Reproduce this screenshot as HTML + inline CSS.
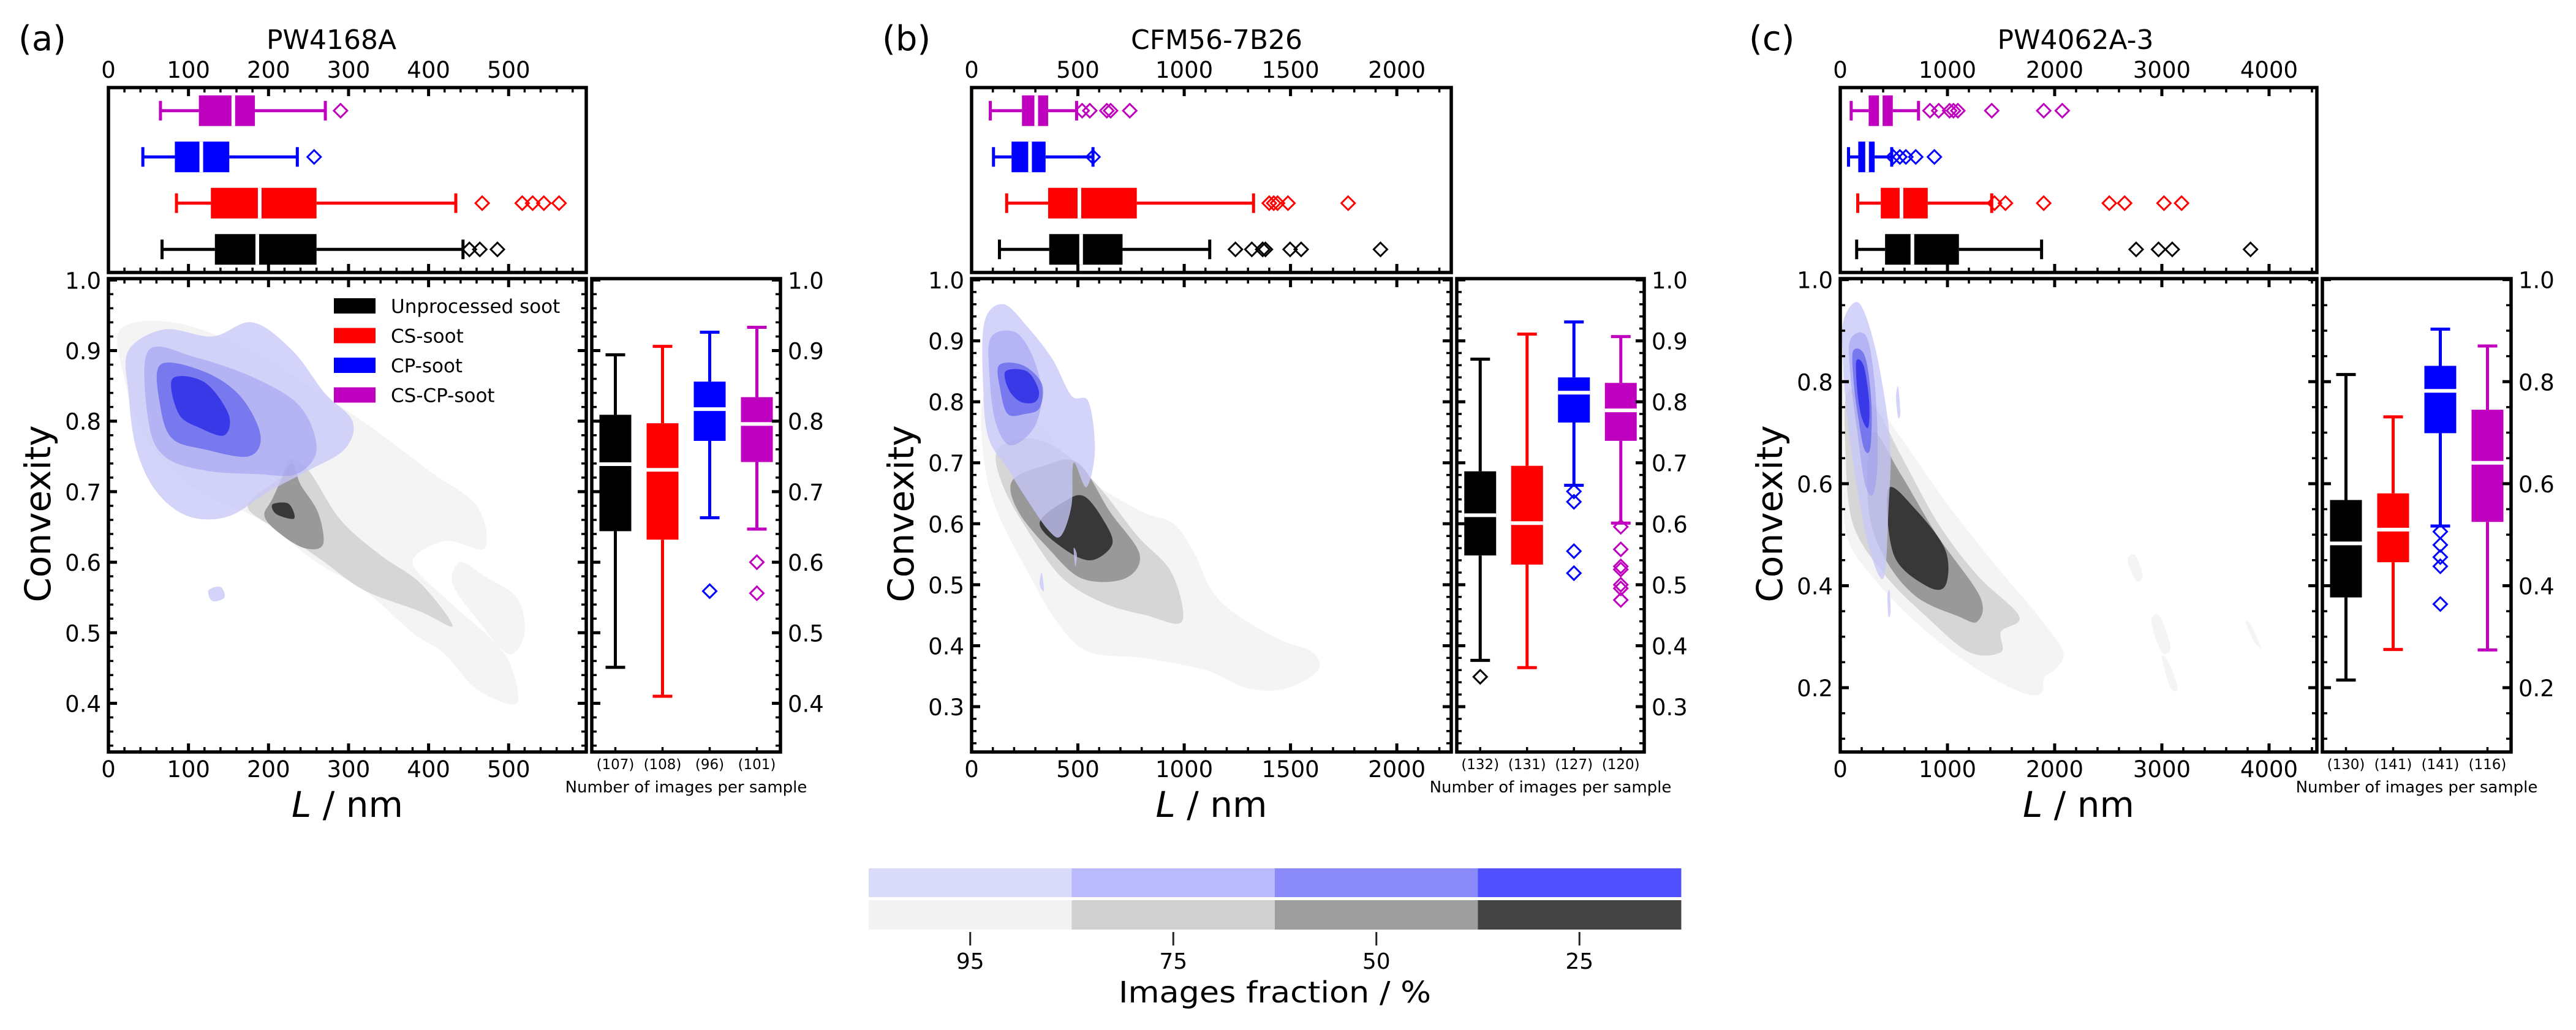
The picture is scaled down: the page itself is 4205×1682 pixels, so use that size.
<!DOCTYPE html>
<html><head><meta charset="utf-8">
<style>
html,body{margin:0;padding:0;background:#fff;}
svg{display:block;font-family:"DejaVu Sans","Liberation Sans",sans-serif;}
</style></head>
<body>
<svg id="fig" xmlns="http://www.w3.org/2000/svg" width="4205" height="1682" viewBox="0 0 4205 1682">
<rect x="0" y="0" width="4205" height="1682" fill="#fff"/>
</svg>
<script>
// ---------------- DATA ----------------
const groupNames = ["Unprocessed soot","CS-soot","CP-soot","CS-CP-soot"];
const groupColors = ["#000000","#ff0000","#0000ff","#bf00bf"];
const levelLabels = ["95","75","50","25"];
const grayColors = ["#f4f4f4","#d6d6d6","#999999","#383838"];
const blueColors = ["rgba(200,200,248,0.78)","rgba(150,150,240,0.5)","rgba(80,80,235,0.6)","rgba(40,40,230,0.78)"];
const cbBlue = ["#dadafa","#b9b9fb","#8a8afb","#5050ff"];
const cbGray = ["#f2f2f2","#d0d0d0","#9e9e9e","#444444"];

// panel a: PW4168A. stats = [whiskerLow, q1, median, q3, whiskerHigh]
const aTitle = "PW4168A";
const aLStats = [[67,133,186,260,443],[85,128,189,260,434],[43,83,116,151,236],[65,113,156,183,271]];
const aLOut = [[451,464,486],[467,517,530,544,563],[257],[290]];
const aCStats = [[0.451,0.644,0.739,0.809,0.894],[0.410,0.632,0.731,0.797,0.906],[0.663,0.772,0.817,0.856,0.926],[0.647,0.742,0.796,0.834,0.933]];
const aCOut = [[],[],[0.559],[0.600,0.556]];
const aCounts = ["(107)","(108)","(96)","(101)"];
const aXTicks = [0,100,200,300,400,500];
const aYTicks = [0.4,0.5,0.6,0.7,0.8,0.9,1.0];
const aYTickLabels = ["0.4","0.5","0.6","0.7","0.8","0.9","1.0"];
const aGray = [
 [[[15,0.93],[80,0.94],[170,0.905],[250,0.85],[330,0.79],[400,0.73],[460,0.68],[470,0.62],[420,0.63],[380,0.6],[420,0.55],[470,0.5],[500,0.46],[510,0.4],[460,0.42],[420,0.47],[380,0.5],[320,0.56],[260,0.6],[190,0.66],[130,0.69],[80,0.73],[40,0.79],[20,0.86]],
  [[440,0.6],[470,0.58],[510,0.55],[520,0.5],[500,0.47],[460,0.52],[430,0.57]]],
 [[[225,0.745],[250,0.73],[290,0.66],[340,0.61],[390,0.57],[430,0.51],[390,0.53],[320,0.56],[270,0.6],[220,0.64],[175,0.675],[190,0.7],[215,0.72]]],
 [[[228,0.74],[240,0.71],[262,0.67],[268,0.625],[245,0.62],[215,0.64],[195,0.665],[205,0.69]]],
 [[[205,0.682],[225,0.683],[232,0.662],[210,0.668]]]
];
const aBlue = [
 [[[25,0.9],[70,0.93],[130,0.92],[180,0.94],[230,0.9],[270,0.84],[305,0.8],[295,0.76],[250,0.73],[200,0.7],[150,0.665],[100,0.665],[60,0.7],[35,0.76],[25,0.84]],
  [[125,0.56],[140,0.565],[145,0.55],[130,0.545]]],
 [[[50,0.9],[110,0.89],[185,0.86],[240,0.82],[260,0.76],[235,0.725],[185,0.725],[120,0.73],[70,0.75],[50,0.8]]],
 [[[65,0.88],[120,0.87],[165,0.835],[190,0.78],[175,0.75],[120,0.76],[80,0.775],[65,0.82]]],
 [[[80,0.86],[120,0.855],[150,0.81],[145,0.78],[115,0.79],[88,0.81]]]
];

// panel b: CFM56-7B26
const bTitle = "CFM56-7B26";
const bLStats = [[131,365,515,710,1120],[165,360,507,777,1326],[103,188,275,348,571],[88,237,304,360,494]];
const bLOut = [[1241,1318,1369,1382,1498,1550,1923],[1400,1421,1439,1488,1771],[571],[520,556,636,654,744]];
const bCStats = [[0.376,0.548,0.614,0.686,0.870],[0.364,0.533,0.601,0.695,0.911],[0.663,0.766,0.815,0.840,0.931],[0.601,0.736,0.786,0.831,0.907]];
const bCOut = [[0.349],[],[0.653,0.636,0.555,0.519],[0.595,0.558,0.530,0.525,0.500,0.494,0.475]];
const bCounts = ["(132)","(131)","(127)","(120)"];
const bXTicks = [0,500,1000,1500,2000];
const bYTicks = [0.3,0.4,0.5,0.6,0.7,0.8,0.9,1.0];
const bYTickLabels = ["0.3","0.4","0.5","0.6","0.7","0.8","0.9","1.0"];
const bGray = [
 [[[50,0.8],[130,0.83],[260,0.79],[420,0.72],[560,0.67],[800,0.62],[950,0.6],[1050,0.55],[1130,0.49],[1250,0.45],[1450,0.41],[1600,0.39],[1630,0.36],[1480,0.33],[1300,0.33],[1100,0.36],[800,0.38],[550,0.39],[400,0.44],[250,0.53],[120,0.62],[60,0.7]]],
 [[[120,0.72],[260,0.74],[420,0.72],[600,0.66],[780,0.58],[940,0.52],[990,0.44],[820,0.45],[620,0.47],[430,0.51],[280,0.58],[150,0.66]]],
 [[[190,0.67],[340,0.695],[500,0.7],[650,0.62],[790,0.55],[720,0.51],[520,0.51],[360,0.56],[220,0.62]]],
 [[[320,0.6],[430,0.635],[530,0.645],[630,0.6],[660,0.565],[560,0.54],[430,0.56]]]
];
const bBlue = [
 [[[60,0.93],[150,0.96],[270,0.92],[380,0.87],[470,0.81],[550,0.8],[580,0.72],[540,0.66],[480,0.7],[470,0.63],[420,0.58],[360,0.59],[260,0.64],[170,0.69],[80,0.74],[55,0.82]],
  [[320,0.5],[330,0.52],[340,0.49]],[[480,0.56],[495,0.55],[488,0.53]]],
 [[[90,0.905],[200,0.915],[280,0.88],[330,0.82],[310,0.77],[250,0.74],[170,0.73],[110,0.77],[85,0.84]]],
 [[[130,0.86],[240,0.86],[330,0.83],[320,0.79],[250,0.78],[170,0.78],[135,0.82]]],
 [[[160,0.85],[260,0.85],[315,0.82],[300,0.8],[230,0.8],[175,0.82]]]
];

// panel c: PW4062A-3
const cTitle = "PW4062A-3";
const cLStats = [[153,418,673,1107,1878],[163,378,571,816,1413],[77,168,250,321,480],[102,265,378,490,730]];
const cLOut = [[2760,2969,3097,3827],[1439,1541,1898,2510,2653,3020,3184],[495,556,612,704,878],[837,918,1020,1056,1097,1413,1898,2071]];
const cCStats = [[0.215,0.377,0.483,0.568,0.814],[0.275,0.446,0.510,0.581,0.731],[0.517,0.699,0.782,0.831,0.903],[0.274,0.525,0.641,0.745,0.870]];
const cCOut = [[],[],[0.506,0.480,0.456,0.438,0.364],[]];
const cCounts = ["(130)","(141)","(141)","(116)"];
const cXTicks = [0,1000,2000,3000,4000];
const cYTicks = [0.2,0.4,0.6,0.8,1.0];
const cYTickLabels = ["0.2","0.4","0.6","0.8","1.0"];
const cGray = [
 [[[40,0.83],[260,0.78],[600,0.68],[1000,0.56],[1450,0.44],[1850,0.34],[2080,0.27],[2000,0.235],[1900,0.22],[1880,0.19],[1700,0.19],[1250,0.24],[750,0.32],[330,0.41],[60,0.5],[30,0.66]],
  [[2680,0.45],[2750,0.46],[2820,0.42],[2760,0.41]],[[2900,0.33],[2980,0.34],[3080,0.28],[3000,0.27]],[[3000,0.26],[3060,0.25],[3150,0.2],[3080,0.2]],[[3780,0.33],[3840,0.32],[3920,0.28],[3860,0.29]]],
 [[[70,0.78],[320,0.75],[580,0.65],[920,0.52],[1280,0.42],[1670,0.34],[1500,0.31],[1500,0.27],[1200,0.27],[800,0.34],[420,0.42],[120,0.52],[50,0.66]]],
 [[[300,0.7],[560,0.62],[900,0.5],[1300,0.38],[1280,0.33],[1100,0.34],[700,0.38],[400,0.46],[260,0.56]]],
 [[[450,0.59],[700,0.55],[980,0.47],[980,0.4],[800,0.4],[500,0.46]]]
];
const cBlue = [
 [[[30,0.92],[170,0.955],[310,0.88],[420,0.76],[470,0.66],[450,0.55],[420,0.43],[360,0.42],[250,0.49],[150,0.6],[70,0.72],[25,0.84]],
  [[520,0.77],[540,0.79],[560,0.74],[540,0.73]],[[440,0.38],[460,0.39],[470,0.35],[450,0.34]]],
 [[[90,0.88],[240,0.89],[320,0.8],[350,0.66],[310,0.58],[230,0.6],[160,0.7],[100,0.8]]],
 [[[120,0.86],[230,0.85],[290,0.76],[280,0.67],[220,0.67],[160,0.74],[125,0.8]]],
 [[[150,0.84],[220,0.83],[270,0.76],[260,0.71],[200,0.73],[160,0.78]]]
];

// ---------------- RENDER ----------------
const NS = "http://www.w3.org/2000/svg";
const svg = document.getElementById('fig');
function mk(tag, attrs, parent){
  const e = document.createElementNS(NS, tag);
  for (const k in attrs) e.setAttribute(k, attrs[k]);
  (parent || svg).appendChild(e);
  return e;
}
function smoothPath(pts){
  const n = pts.length; let d = "M" + pts[0][0].toFixed(1) + "," + pts[0][1].toFixed(1);
  for (let i = 0; i < n; i++){
    const p0 = pts[(i-1+n)%n], p1 = pts[i], p2 = pts[(i+1)%n], p3 = pts[(i+2)%n];
    const c1x = p1[0] + (p2[0]-p0[0])/6, c1y = p1[1] + (p2[1]-p0[1])/6;
    const c2x = p2[0] - (p3[0]-p1[0])/6, c2y = p2[1] - (p3[1]-p1[1])/6;
    d += "C" + c1x.toFixed(1)+","+c1y.toFixed(1)+" "+c2x.toFixed(1)+","+c2y.toFixed(1)+" "+p2[0].toFixed(1)+","+p2[1].toFixed(1);
  }
  return d + "Z";
}
function diamond(cx, cy, r){ return "M"+cx+","+(cy-r)+"L"+(cx+r)+","+cy+"L"+cx+","+(cy+r)+"L"+(cx-r)+","+cy+"Z"; }

function drawPanel(P){
  const xs = v => P.x0 + (v - 0) / P.xmax * P.w;
  const ys = v => P.mainY + (P.ymax - v) / (P.ymax - P.ymin) * P.mainH;
  const rowY = k => P.topY + P.topH - (k + 0.5) / 4 * P.topH;
  const colX = k => P.rx + (k + 0.5) / 4 * P.rw;
  const g = mk('g', {});
  
  

  const lab = mk('text', {x:P.labX, y:82, 'font-size':56}, g);
  lab.textContent = "(" + P.id + ")";
  
  
  const tt = mk('text', {x:P.titleX, y:80, 'font-size':44, 'text-anchor':'middle'}, g);
  tt.textContent = P.title;
  
  

  const cid = 'clip' + P.id;
  const cp = mk('clipPath', {id:cid}, g);
  mk('rect', {x:P.x0, y:P.mainY, width:P.w, height:P.mainH}, cp);
  const cg = mk('g', {'clip-path':'url(#'+cid+')'}, g);
  
  
  P.gray.forEach((lvl, li) => {
    lvl.forEach(poly => {
      const p = mk('path', {d: smoothPath(poly.map(q => [xs(q[0]), ys(q[1])])), fill: grayColors[li]}, cg);
      
      
    });
  });
  P.blue.forEach((lvl, li) => {
    lvl.forEach(poly => {
      const p = mk('path', {d: smoothPath(poly.map(q => [xs(q[0]), ys(q[1])])), fill: blueColors[li]}, cg);
      
      
    });
  });

  P.lStats.forEach((s, k) => {
    const y = rowY(k), c = groupColors[k], hh = 25;
    const bg = mk('g', {}, g);
    
    
    mk('path', {d:"M"+xs(s[0])+","+y+"H"+xs(s[1])+"M"+xs(s[3])+","+y+"H"+xs(s[4])+"M"+xs(s[0])+","+(y-16)+"V"+(y+16)+"M"+xs(s[4])+","+(y-16)+"V"+(y+16), stroke:c, 'stroke-width':5, fill:'none'}, bg);
    mk('rect', {x:xs(s[1]), y:y-hh, width:xs(s[3])-xs(s[1]), height:2*hh, fill:c}, bg);
    mk('line', {x1:xs(s[2]), x2:xs(s[2]), y1:y-hh, y2:y+hh, stroke:'#fff', 'stroke-width':6}, bg);
    P.lOut[k].forEach(v => {
      const o = mk('path', {d: diamond(xs(v), y, 11), fill:'none', stroke:c, 'stroke-width':3}, bg);
      
      
    });
  });

  const rcp = 'rclip' + P.id;
  const rc = mk('clipPath', {id:rcp}, g);
  mk('rect', {x:P.rx, y:P.mainY, width:P.rw, height:P.mainH}, rc);
  P.cStats.forEach((s, k) => {
    const x = colX(k), c = groupColors[k], hw = 26;
    const bg = mk('g', {'clip-path':'url(#'+rcp+')'}, g);
    
    
    mk('path', {d:"M"+x+","+ys(s[0])+"V"+ys(s[1])+"M"+x+","+ys(s[3])+"V"+ys(s[4])+"M"+(x-16)+","+ys(s[0])+"H"+(x+16)+"M"+(x-16)+","+ys(s[4])+"H"+(x+16), stroke:c, 'stroke-width':5, fill:'none'}, bg);
    mk('rect', {x:x-hw, y:ys(s[3]), width:2*hw, height:ys(s[1])-ys(s[3]), fill:c}, bg);
    mk('line', {x1:x-hw, x2:x+hw, y1:ys(s[2]), y2:ys(s[2]), stroke:'#fff', 'stroke-width':6}, bg);
    P.cOut[k].forEach(v => {
      const o = mk('path', {d: diamond(x, ys(v), 11), fill:'none', stroke:c, 'stroke-width':3}, bg);
      
      
    });
    const ct = mk('text', {x:x, y:1256, 'font-size':23, 'text-anchor':'middle'}, g);
    ct.textContent = P.counts[k];
    
    
  });
  const nl = mk('text', {x:P.rx + P.rw/2, y:1294, 'font-size':26, 'text-anchor':'middle'}, g);
  nl.textContent = "Number of images per sample";
  
  

  let dMaj = "", dMin = "";
  for (let v = 0; v <= P.xmax + 1e-9; v += P.xMinor){
    const X = xs(v);
    const isMaj = P.xTicks.some(t => Math.abs(t - v) < 1e-6);
    const L = isMaj ? 14 : 8;
    const seg = "M"+X+","+(P.mainY+P.mainH)+"v"+(-L)+"M"+X+","+P.mainY+"v"+L+"M"+X+","+(P.topY+P.topH)+"v"+(-L)+"M"+X+","+P.topY+"v"+L;
    if (isMaj) dMaj += seg; else dMin += seg;
  }
  const yStart = Math.ceil(P.ymin / P.yMinor - 1e-6) * P.yMinor;
  for (let v = yStart; v <= P.ymax + 1e-9; v += P.yMinor){
    const Y = ys(v);
    const isMaj = P.yTicks.some(t => Math.abs(t - v) < 1e-6);
    const L = isMaj ? 14 : 8;
    const seg = "M"+P.x0+","+Y+"h"+L+"M"+(P.x0+P.w)+","+Y+"h"+(-L)+"M"+P.rx+","+Y+"h"+L+"M"+(P.rx+P.rw)+","+Y+"h"+(-L);
    if (isMaj) dMaj += seg; else dMin += seg;
  }
  for (let k = 0; k < 4; k++){ dMin += "M"+colX(k)+","+(P.mainY+P.mainH)+"v-8"; }
  const tmj = mk('path', {d:dMaj, stroke:'#000', 'stroke-width':5, fill:'none'}, g);
  
  
  const tmn = mk('path', {d:dMin, stroke:'#000', 'stroke-width':3.5, fill:'none'}, g);
  
  

  [[P.x0,P.topY,P.w,P.topH,'top-length-axes'],[P.x0,P.mainY,P.w,P.mainH,'main-kde-axes'],[P.rx,P.mainY,P.rw,P.mainH,'right-convexity-axes']].forEach(f => {
    const r = mk('rect', {x:f[0], y:f[1], width:f[2], height:f[3], fill:'none', stroke:'#000', 'stroke-width':5.5}, g);
    
    
  });

  P.xTicks.forEach(v => {
    const t1 = mk('text', {x:xs(v), y:127, 'font-size':37, 'text-anchor':'middle'}, g);
    t1.textContent = String(v);
    
    
    const t2 = mk('text', {x:xs(v), y:1269, 'font-size':37, 'text-anchor':'middle'}, g);
    t2.textContent = String(v);
    
    
  });
  P.yTicks.forEach((v, i) => {
    const t1 = mk('text', {x:P.x0-12, y:ys(v)+14, 'font-size':37, 'text-anchor':'end'}, g);
    t1.textContent = P.yTickLabels[i];
    
    
    const t2 = mk('text', {x:P.rx+P.rw+12, y:ys(v)+14, 'font-size':37}, g);
    t2.textContent = P.yTickLabels[i];
    
    
  });

  const xl = mk('text', {x:P.x0+P.w/2, y:1334, 'font-size':58, 'text-anchor':'middle'}, g);
  xl.innerHTML = '<tspan font-style="italic">L</tspan> / nm';
  
  
  const yl = mk('text', {x:0, y:0, 'font-size':58, 'text-anchor':'middle', transform:'translate('+(P.x0-95)+',839) rotate(-90)'}, g);
  yl.textContent = "Convexity";
  
  
}

drawPanel({id:'a', title:aTitle, labX:30, titleX:541, x0:177, w:780, topY:143, topH:302, mainY:455, mainH:773, rx:966, rw:308,
  xmax:597, ymin:0.331, ymax:1.002, xMinor:20, yMinor:0.02, xTicks:aXTicks, yTicks:aYTicks, yTickLabels:aYTickLabels,
  lStats:aLStats, lOut:aLOut, cStats:aCStats, cOut:aCOut, counts:aCounts, gray:aGray, blue:aBlue});
drawPanel({id:'b', title:bTitle, labX:1440, titleX:1986, x0:1586, w:783, topY:143, topH:302, mainY:455, mainH:773, rx:2378, rw:306,
  xmax:2256, ymin:0.2257, ymax:1.002, xMinor:100, yMinor:0.02, xTicks:bXTicks, yTicks:bYTicks, yTickLabels:bYTickLabels,
  lStats:bLStats, lOut:bLOut, cStats:bCStats, cOut:bCOut, counts:bCounts, gray:bGray, blue:bBlue});
drawPanel({id:'c', title:cTitle, labX:2855, titleX:3388, x0:3004, w:778, topY:143, topH:302, mainY:455, mainH:773, rx:3791, rw:308,
  xmax:4446, ymin:0.074, ymax:1.002, xMinor:200, yMinor:0.05, xTicks:cXTicks, yTicks:cYTicks, yTickLabels:cYTickLabels,
  lStats:cLStats, lOut:cLOut, cStats:cCStats, cOut:cCOut, counts:cCounts, gray:cGray, blue:cBlue});

const lg = mk('g', {});


groupNames.forEach((nm, k) => {
  const y = 499 + k * 48.5;
  const r = mk('rect', {x:545, y:y-12, width:68, height:25, fill:groupColors[k]}, lg);
  
  
  const t = mk('text', {x:638, y:y+12, 'font-size':31}, lg);
  t.textContent = nm;
  
  
});

const cbX0 = 1418, cbW = 1326, cbSeg = cbW / levelLabels.length;
const cb = mk('g', {});


levelLabels.forEach((lv, i) => {
  const x = cbX0 + i * cbSeg;
  const b = mk('rect', {x:x, y:1418, width:cbSeg+0.5, height:47, fill:cbBlue[i]}, cb);
  
  
  const gr = mk('rect', {x:x, y:1470, width:cbSeg+0.5, height:48, fill:cbGray[i]}, cb);
  
  
  const tk = mk('line', {x1:x+cbSeg/2, x2:x+cbSeg/2, y1:1522, y2:1544, stroke:'#222', 'stroke-width':3}, cb);
  
  
  const t = mk('text', {x:x+cbSeg/2, y:1582, 'font-size':36, 'text-anchor':'middle'}, cb);
  t.textContent = lv;
  
  
});
const cbt = mk('text', {x:cbX0 + cbW/2 - 255, y:1637, 'font-size':48, textLength:510, lengthAdjust:'spacingAndGlyphs'}, cb);
cbt.textContent = "Images fraction / %";


</script>
</body></html>
